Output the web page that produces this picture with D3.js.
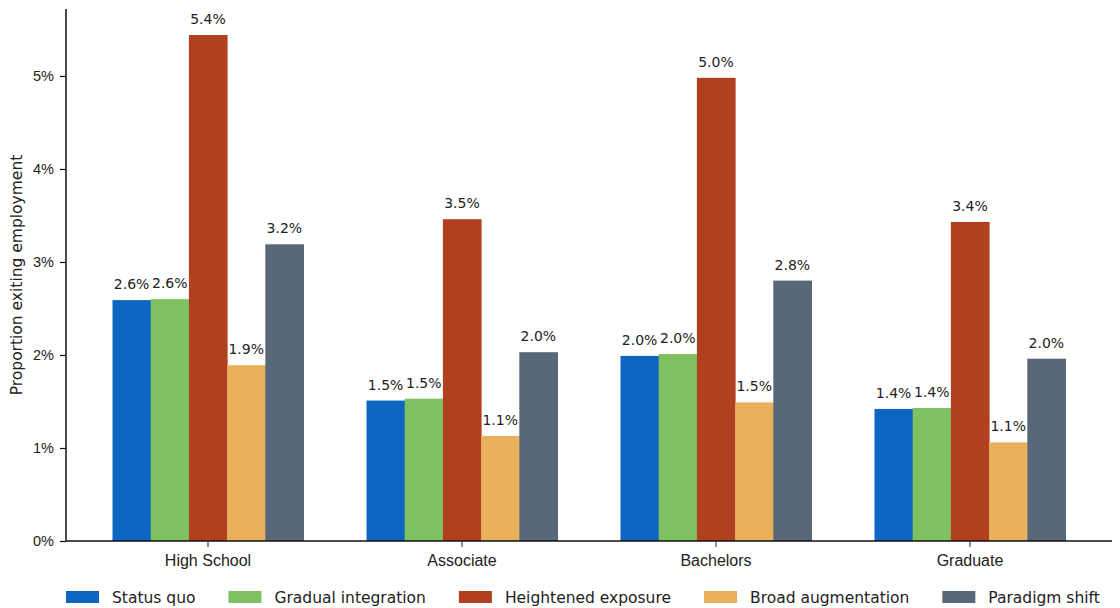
<!DOCTYPE html>
<html>
<head>
<meta charset="utf-8">
<script src="https://cdn.jsdelivr.net/npm/d3@7"></script>
<style>
  html, body { margin: 0; padding: 0; background: #fff; }
  svg { display: block; font-family: "DejaVu Sans", sans-serif; }
</style>
</head>
<body>
<svg id="chart" width="1120" height="608"></svg>
<script>
// Education levels along the x axis
const categories = ["High School", "Associate", "Bachelors", "Graduate"];

// Scenario names (legend order)
const seriesNames = ["Status quo", "Gradual integration", "Heightened exposure", "Broad augmentation", "Paradigm shift"];
const seriesColors = ["#0c66c2", "#7fc160", "#b04020", "#e9b15c", "#586878"];

// Share of workers exiting employment, in percent, per scenario
const statusQuo          = [2.59, 1.51, 1.99, 1.42];
const gradualIntegration = [2.60, 1.53, 2.01, 1.43];
const heightenedExposure = [5.44, 3.46, 4.98, 3.43];
const broadAugmentation  = [1.89, 1.13, 1.49, 1.06];
const paradigmShift      = [3.19, 2.03, 2.80, 1.96];

const seriesValues = [statusQuo, gradualIntegration, heightenedExposure, broadAugmentation, paradigmShift];

// Y axis ticks
const yTicks = [0, 1, 2, 3, 4, 5];

const svg = d3.select("#chart");
const margin = { left: 66, right: 8, top: 9, bottom: 67 };
const W = 1120, H = 608;
const plotBottom = H - margin.bottom;

const y = d3.scaleLinear().domain([0, 5.72]).range([plotBottom, margin.top]);

const x0 = d3.scaleBand()
  .domain(categories)
  .range([81, 1097])
  .paddingInner(0.248)
  .paddingOuter(0.124);

const x1 = d3.scaleBand()
  .domain(seriesNames)
  .range([0, x0.bandwidth()]);

const textColor = "#222";

// Bars
const groups = svg.append("g").selectAll("g")
  .data(categories)
  .join("g")
  .attr("transform", d => `translate(${x0(d)},0)`);

groups.selectAll("rect")
  .data((d, i) => seriesNames.map((s, j) => ({ s, j, v: seriesValues[j][i] })))
  .join("rect")
  .attr("x", d => x1(d.s))
  .attr("y", d => y(d.v))
  .attr("width", x1.bandwidth() + 0.5)
  .attr("height", d => plotBottom - y(d.v))
  .attr("fill", d => seriesColors[d.j]);

// Value labels
groups.selectAll("text")
  .data((d, i) => seriesNames.map((s, j) => ({ s, j, v: seriesValues[j][i] })))
  .join("text")
  .attr("x", d => x1(d.s) + x1.bandwidth() / 2)
  .attr("y", d => y(d.v) - 11)
  .attr("text-anchor", "middle")
  .attr("font-size", 14)
  .attr("fill", textColor)
  .text(d => d3.format(".1f")(d.v) + "%");

// Y axis
const yAxis = svg.append("g")
  .attr("transform", `translate(${margin.left},0)`)
  .call(d3.axisLeft(y).tickValues(yTicks).tickFormat(d => d + "%").tickSize(6).tickPadding(6));
yAxis.select(".domain").attr("d", `M0,${margin.top}V${plotBottom}`).attr("stroke", "#111").attr("stroke-width", 1.5);
yAxis.selectAll(".tick line").attr("stroke", "#111").attr("stroke-width", 1.2);
yAxis.selectAll(".tick text").attr("font-size", 14.5).attr("fill", textColor).attr("font-family", null);

// X axis
const xAxis = svg.append("g")
  .attr("transform", `translate(0,${plotBottom})`)
  .call(d3.axisBottom(x0).tickSize(6).tickPadding(8));
xAxis.select(".domain").attr("d", `M${margin.left},0H${W - margin.right}`).attr("stroke", "#111").attr("stroke-width", 1.5);
xAxis.selectAll(".tick line").attr("stroke", "#444").attr("stroke-width", 1.2);
xAxis.selectAll(".tick text").attr("font-size", 16).attr("fill", textColor).attr("font-family", null);

// Y axis title
svg.append("text")
  .attr("transform", `translate(22,${(margin.top + plotBottom) / 2}) rotate(-90)`)
  .attr("text-anchor", "middle")
  .attr("font-size", 15.5)
  .attr("fill", textColor)
  .text("Proportion exiting employment");

// Legend laid out as a single row
const legend = svg.append("g").attr("transform", "translate(66,597)");
let lx = 0;
seriesNames.forEach((name, j) => {
  const item = legend.append("g").attr("transform", `translate(${lx},0)`);
  item.append("rect").attr("x", 0).attr("y", -6).attr("width", 33).attr("height", 12).attr("fill", seriesColors[j]);
  const t = item.append("text")
    .attr("x", 46).attr("y", 5.5)
    .attr("font-size", 15.5)
    .attr("fill", textColor)
    .text(name);
  lx += 46 + t.node().getComputedTextLength() + 33;
});
</script>
</body>
</html>
